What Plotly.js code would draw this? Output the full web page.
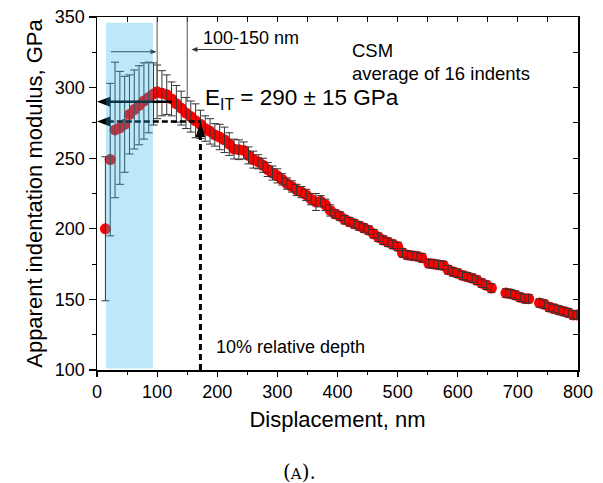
<!DOCTYPE html>
<html>
<head>
<meta charset="utf-8">
<script src="https://cdn.plot.ly/plotly-3.0.1.min.js"></script>
<style>html,body{margin:0;padding:0;background:#fff;}#chart{width:603px;height:483px;}</style>
</head>
<body>
<div id="chart"></div>
<script>
// Displacement (nm)
const displacement = [14,22,30,38,46,54,62,70,78,86,
  94,100,108,116,124,132,140,148,156,164,
  172,180,188,196,204,212,220,228,236,244,
  252,260,268,276,284,292,300,308,316,324,
  332,340,348,356,364,372,380,388,396,404,
  412,420,428,436,444,452,460,468,476,484,
  492,500,508,516,524,532,540,552,560,568,
  576,584,592,600,608,616,624,632,640,648,
  656,680,688,696,704,712,718,736,744,752,
  760,768,776,784,792,798];
// Apparent indentation modulus (GPa)
const modulus = [200,249,270,271.5,274,281,284.5,287.5,290.5,293,
  295.5,297,296,295,292,288.5,285.5,282,279.5,276.5,
  274,271,269,266.5,265,263,260,256.5,256,255.5,
  252,249,247.5,245,242,239.5,237.5,235,232,230,
  227.5,226,224,221,219,219.5,217,213,210.5,209,
  206.5,205,203.5,202,200.5,199,196.5,194,192,190.5,
  189,187.5,183,181.5,181,180.5,179.5,175.5,175,174.5,
  174,171,169.5,168.5,167,166,165,163.5,161.5,160,
  158,154.5,154,153,151.5,150.5,150.5,147.5,146.5,144.5,
  143.5,142.5,141.5,140.5,139,139];
// Standard deviation (GPa)
const stdev = [51,54,48,40,34,28,28,28,27,25,
  22,19,16,14,12,13,12,11,11,12,
  10,9,9,8,9,9,8,7,7,6,
  6,6,5,5,5,5,5,4,4,4,
  4,4,4,4,6,4,4,4,3,3,
  3,3,3,3,3,3,3,3,3,3,
  3,3,3,3,3,3,3,3,3,3,
  3,3,3,3,3,3,3,3,3,3,
  3,3,3,3,3,3,3,3,3,3,
  3,3,3,3,3,3];

const xTicks = [0,100,200,300,400,500,600,700,800];
const yTicks = [100,150,200,250,300,350];

// annotation reference values
const E_IT = 290, E_low = 276, relDepth = 172;
const bandX = [15, 93], bandY = [101, 346];
const rangeArrowY = 325.4, labelArrowY = 327;

const FONT = 'Liberation Sans, Arial, sans-serif';

const traces = [
  {
    x: displacement, y: modulus, type: 'scatter', mode: 'markers',
    marker: {color: '#ff0000', size: 11, line: {width: 0}},
    hoverinfo: 'x+y', showlegend: false
  },
  {
    x: displacement, y: modulus, type: 'scatter', mode: 'markers',
    marker: {color: 'rgba(0,0,0,0)', size: 1},
    error_y: {type: 'data', array: stdev, visible: true, color: '#333333', thickness: 1, width: 4},
    hoverinfo: 'skip', showlegend: false
  },
  {
    x: [null], y: [null], xaxis: 'x2', yaxis: 'y2', type: 'scatter', mode: 'markers',
    hoverinfo: 'skip', showlegend: false
  }
];

const shapes = [
  {type: 'line', xref: 'x', yref: 'y', x0: 100, x1: 100, y0: 350, y1: 297, line: {color: '#555', width: 1}, layer: 'above'},
  {type: 'line', xref: 'x', yref: 'y', x0: 150, x1: 150, y0: 350, y1: 290, line: {color: '#555', width: 1}, layer: 'above'},
  // thin range arrows
  {type: 'line', xref: 'x', yref: 'y', x0: 23, x1: 92, y0: rangeArrowY, y1: rangeArrowY, line: {color: '#333', width: 1}, layer: 'above'},
  {type: 'path', xref: 'x', yref: 'y', path: `M 99 ${rangeArrowY} L 89 ${rangeArrowY + 1.8} L 89 ${rangeArrowY - 1.8} Z`, fillcolor: '#333', line: {width: 0}, layer: 'above'},
  {type: 'line', xref: 'x', yref: 'y', x0: 164, x1: 230, y0: labelArrowY, y1: labelArrowY, line: {color: '#333', width: 1}, layer: 'above'},
  {type: 'path', xref: 'x', yref: 'y', path: `M 157 ${labelArrowY} L 167 ${labelArrowY + 1.8} L 167 ${labelArrowY - 1.8} Z`, fillcolor: '#333', line: {width: 0}, layer: 'above'},
  // E_IT arrows
  {type: 'line', xref: 'x', yref: 'y', x0: 18, x1: 125, y0: E_IT, y1: E_IT, line: {color: '#000', width: 2.5}, layer: 'above'},
  {type: 'path', xref: 'x', yref: 'y', path: `M 0 ${E_IT} L 22 ${E_IT + 3.5} L 22 ${E_IT - 3.5} Z`, fillcolor: '#000', line: {width: 0}, layer: 'above'},
  {type: 'line', xref: 'x', yref: 'y', x0: 18, x1: relDepth, y0: E_low, y1: E_low, line: {color: '#000', width: 2.5, dash: '6px,3px'}, layer: 'above'},
  {type: 'path', xref: 'x', yref: 'y', path: `M 0 ${E_low} L 22 ${E_low + 3.5} L 22 ${E_low - 3.5} Z`, fillcolor: '#000', line: {width: 0}, layer: 'above'},
  {type: 'line', xref: 'x', yref: 'y', x0: relDepth, x1: relDepth, y0: 100, y1: 266, line: {color: '#000', width: 3, dash: '6px,4px'}, layer: 'above'},
  {type: 'path', xref: 'x', yref: 'y', path: `M ${relDepth} ${E_low} L ${relDepth - 8} 265 L ${relDepth + 8} 265 Z`, fillcolor: '#000', line: {width: 0}, layer: 'above'},
  // highlighted band
  {type: 'rect', xref: 'x', yref: 'y', x0: bandX[0], x1: bandX[1], y0: bandY[0], y1: bandY[1], fillcolor: 'rgb(38,178,228)', opacity: 0.3, line: {width: 0}, layer: 'above'}
];

const annotations = [
  {xref: 'x', yref: 'y', x: 256, y: 335, text: '100-150 nm', showarrow: false, xanchor: 'center', yanchor: 'middle', font: {family: FONT, size: 18, color: '#000'}},
  {xref: 'x', yref: 'y', x: 421, y: 326.6, text: 'CSM', showarrow: false, xanchor: 'left', yanchor: 'middle', font: {family: FONT, size: 18.5, color: '#000'}},
  {xref: 'x', yref: 'y', x: 421, y: 310.3, text: 'average of 16 indents', showarrow: false, xanchor: 'left', yanchor: 'middle', font: {family: FONT, size: 18.5, color: '#000'}},
  {xref: 'x', yref: 'y', x: 177, y: 292, text: 'E<sub>IT</sub> = 290 ± 15 GPa', showarrow: false, xanchor: 'left', yanchor: 'middle', font: {family: FONT, size: 22.5, color: '#000'}},
  {xref: 'x', yref: 'y', x: 195, y: 116.3, text: '10% relative depth', showarrow: false, xanchor: 'left', yanchor: 'middle', font: {family: FONT, size: 18, color: '#000'}},
  {xref: 'paper', yref: 'paper', x: 0.422, y: -0.289, text: '(<span style="font-size:15px">A</span>).', showarrow: false, xanchor: 'center', yanchor: 'middle', font: {family: 'DejaVu Serif, Liberation Serif, serif', size: 20, color: '#000'}}
];

const layout = {
  width: 603, height: 483,
  margin: {l: 97, r: 25, t: 17, b: 113},
  paper_bgcolor: '#fff', plot_bgcolor: '#fff',
  font: {family: FONT, color: '#000'},
  showlegend: false,
  xaxis: {
    range: [0, 800], tickvals: xTicks, ticktext: xTicks.map(String),
    ticks: 'outside', ticklen: 5, tickwidth: 1.2, tickcolor: '#000',
    minor: {tickvals: [50,150,250,350,450,550,650,750], ticks: 'outside', ticklen: 3, tickcolor: '#000', tickwidth: 1},
    showline: true, linecolor: '#000', linewidth: 1.5, showgrid: false, zeroline: false,
    tickfont: {family: FONT, size: 18, color: '#000'},
    title: {text: 'Displacement, nm', font: {family: FONT, size: 22, color: '#000'}, standoff: 10}
  },
  yaxis: {
    range: [100, 350], tickvals: yTicks, ticktext: yTicks.map(String),
    ticks: 'outside', ticklen: 7, tickwidth: 1.2, tickcolor: '#000',
    minor: {tickvals: [125,175,225,275,325], ticks: 'outside', ticklen: 4, tickcolor: '#000', tickwidth: 1},
    showline: true, linecolor: '#000', linewidth: 1.5, showgrid: false, zeroline: false,
    tickfont: {family: FONT, size: 18, color: '#000'},
    title: {text: 'Apparent indentation modulus, GPa', font: {family: FONT, size: 22, color: '#000'}, standoff: 6}
  },
  xaxis2: {
    overlaying: 'x', side: 'top', anchor: 'y', range: [0, 800],
    tickvals: [50,100,150,200,250,300,350,400,450,500,550,600,650,700,750],
    ticks: 'inside', ticklen: 5, tickcolor: '#000', tickwidth: 1,
    showticklabels: false, showline: true, linecolor: '#000', linewidth: 1.5, showgrid: false, zeroline: false
  },
  yaxis2: {
    overlaying: 'y', side: 'right', anchor: 'x', range: [100, 350],
    tickvals: [125,150,175,200,225,250,275,300,325],
    ticks: 'inside', ticklen: 5, tickcolor: '#000', tickwidth: 1,
    showticklabels: false, showline: true, linecolor: '#000', linewidth: 1.5, showgrid: false, zeroline: false
  },
  shapes: shapes,
  annotations: annotations
};

Plotly.newPlot('chart', traces, layout, {displayModeBar: false, staticPlot: true});
</script>
</body>
</html>
